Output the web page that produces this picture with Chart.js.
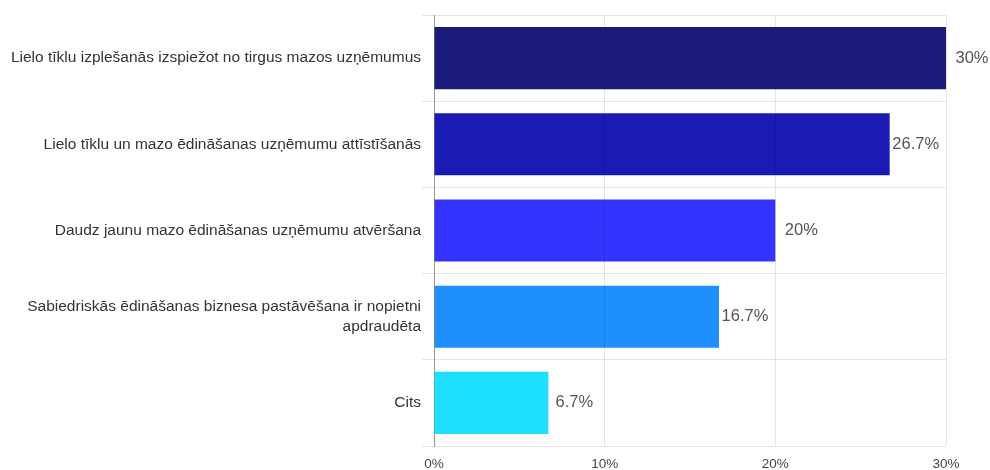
<!DOCTYPE html>
<html>
<head>
<meta charset="utf-8">
<script src="https://cdn.jsdelivr.net/npm/chart.js@4/dist/chart.umd.min.js"></script>
<style>
  html, body { margin: 0; padding: 0; background: #fff; }
  #wrap { width: 990px; height: 470px; position: relative; }
</style>
</head>
<body>
<div id="wrap"><canvas id="chart"></canvas></div>
<script>
// Survey answers and their share of respondents (%)
const categories = [
  'Lielo tīklu izplešanās izspiežot no tirgus mazos uzņēmumus',
  'Lielo tīklu un mazo ēdināšanas uzņēmumu attīstīšanās',
  'Daudz jaunu mazo ēdināšanas uzņēmumu atvēršana',
  ['Sabiedriskās ēdināšanas biznesa pastāvēšana ir nopietni', 'apdraudēta'],
  'Cits'
];
const shares = [30, 26.7, 20, 16.7, 6.7];
const shareLabels = ['30%', '26.7%', '20%', '16.7%', '6.7%'];
const xTicks = [0, 10, 20, 30];
const barColors = ['#1b1b7c', '#1a1ab4', '#3434fe', '#1e90fe', '#1edfff'];

// Writes each bar's share just past its end
const valueLabels = {
  id: 'valueLabels',
  afterDatasetsDraw(chart) {
    const { ctx } = chart;
    const meta = chart.getDatasetMeta(0);
    ctx.save();
    ctx.font = '16.5px "Liberation Sans", Arial, sans-serif';
    ctx.fillStyle = '#555';
    ctx.textAlign = 'center';
    ctx.textBaseline = 'middle';
    meta.data.forEach((bar, i) => {
      ctx.fillText(shareLabels[i], bar.x + 26, bar.y);
    });
    ctx.restore();
  }
};

new Chart(document.getElementById('chart'), {
  type: 'bar',
  data: {
    labels: categories,
    datasets: [{
      data: shares,
      backgroundColor: barColors,
      borderWidth: 0,
      barPercentage: 0.8,
      categoryPercentage: 0.9
    }]
  },
  options: {
    indexAxis: 'y',
    responsive: true,
    maintainAspectRatio: false,
    animation: false,
    layout: { padding: { left: 0, right: 44, top: 15, bottom: 0 } },
    plugins: { legend: { display: false }, tooltip: { enabled: false } },
    scales: {
      x: {
        min: 0,
        max: 30,
        afterBuildTicks(axis) { axis.ticks = xTicks.map(v => ({ value: v })); },
        afterFit(axis) { axis.height = 24; },
        grid: { color: 'rgba(0,0,0,0.1)', drawTicks: false, z: 1 },
        border: { display: false },
        ticks: {
          padding: 10,
          color: '#444',
          font: { family: '"Liberation Sans", Arial, sans-serif', size: 13.5 },
          callback: v => v + '%'
        }
      },
      y: {
        afterFit(axis) { axis.width = 434; },
        grid: { color: 'rgba(0,0,0,0.1)', offset: true, tickLength: 12 },
        border: { color: '#aaa' },
        ticks: {
          padding: 1,
          color: '#333',
          font: { family: '"Liberation Sans", Arial, sans-serif', size: 15.5, lineHeight: 1.3 }
        }
      }
    }
  },
  plugins: [valueLabels]
});
</script>
</body>
</html>
